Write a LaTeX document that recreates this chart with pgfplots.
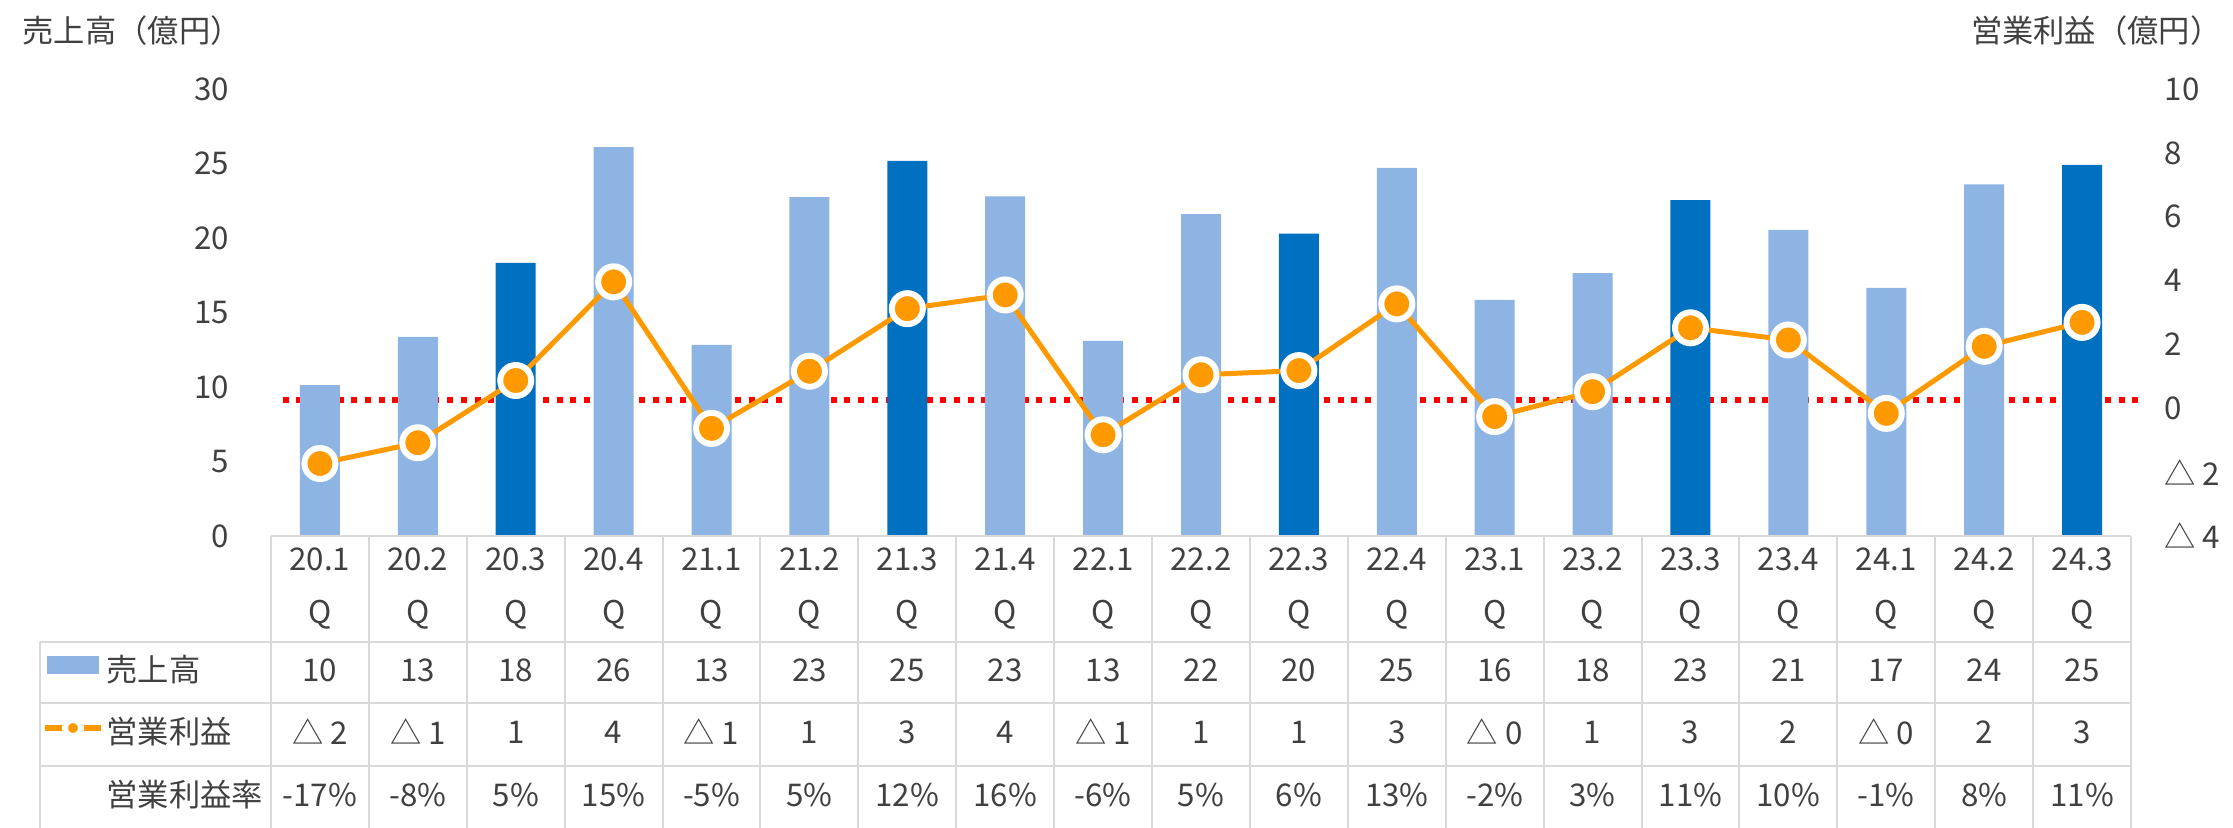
\documentclass[border=0pt]{standalone}
\usepackage{fontspec}
\setmainfont{Noto Sans CJK JP}
\usepackage{pgfplots}
\pgfplotsset{compat=1.18}

\definecolor{lblue}{HTML}{8EB4E3}
\definecolor{dblue}{HTML}{0070C0}
\definecolor{orng}{HTML}{FF9900}
\definecolor{txt}{HTML}{404040}
\definecolor{tline}{HTML}{D9D9D9}
\newcommand{\fs}{\fontsize{8.9pt}{10pt}\selectfont}

\pgfplotsset{
  base/.style={scale only axis, width=186mm, height=44.7mm,
    at={(27.1mm,29.2mm)}, anchor=south west,
    xmin=-0.5, xmax=18.5, xtick=\empty,
    axis line style={draw=none}, major tick style={draw=none}, clip=false,
    ticklabel style={font=\fs, text=txt, inner sep=0pt}},
}

\begin{document}
\begin{tikzpicture}[font=\fs, text=txt]
\useasboundingbox (0,0) rectangle (223.3mm,82.8mm);
\clip (0,0) rectangle (223.3mm,82.8mm);

% red zero line, behind the bars
\begin{axis}[base, ymin=-4, ymax=10, ytick=\empty]
\addplot[red, line width=0.6mm, dash pattern=on 0.6mm off 0.77mm]
  coordinates {(-0.38,0.27)(18.62,0.27)};
\end{axis}

% sales bars (left axis)
\begin{axis}[base, ymin=0, ymax=30, ytick={0,5,...,30},
  yticklabels={0,5,10,15,20,25,30},
  yticklabel style={anchor=east, xshift=-4.1mm},
  ybar, bar width=4mm, bar shift=0pt]
\addplot[fill=lblue, draw=none] coordinates {
  (0,10.13)(1,13.36)(3,26.1)(4,12.82)(5,22.75)(7,22.8)(8,13.09)(9,21.6)
  (11,24.7)(12,15.84)(13,17.65)(15,20.54)(16,16.65)(17,23.6)};
\addplot[fill=dblue, draw=none] coordinates {
  (2,18.33)(6,25.17)(10,20.3)(14,22.55)(18,24.9)};
\end{axis}

% operating profit (right axis)
\begin{axis}[base, ymin=-4, ymax=10, ytick={-4,-2,...,10},
  yticklabels={△ 4,△ 2,0,2,4,6,8,10}, yticklabel pos=right,
  yticklabel style={anchor=west, xshift=3.3mm}]
\addplot[orng, line width=0.5mm, mark=*, mark size=1.55mm,
  mark options={fill=orng, draw=white, line width=0.6mm}] coordinates {
  (0,-1.73)(1,-1.08)(2,0.87)(3,3.96)(4,-0.63)(5,1.16)(6,3.12)(7,3.55)
  (8,-0.83)(9,1.05)(10,1.18)(11,3.27)(12,-0.26)(13,0.52)(14,2.52)
  (15,2.14)(16,-0.16)(17,1.94)(18,2.69)};
\end{axis}

% axis titles
\node[anchor=west, inner sep=0pt] at (2.2mm,79.7mm) {売上高（億円）};
\node[anchor=east, inner sep=0pt] at (222.2mm,79.7mm) {営業利益（億円）};

% data table
\draw[tline, line width=0.25mm] (27.1mm,29.2mm) -- (213.1mm,29.2mm);
\foreach \k in {0,...,19}
  \draw[tline, line width=0.2mm] ({(27.1+\k*9.7895)*1mm},29.2mm) -- ++(0,-31mm);
\foreach \yy in {18.6,12.5,6.2}
  \draw[tline, line width=0.2mm] (4mm,\yy mm) -- (213.1mm,\yy mm);
\draw[tline, line width=0.2mm] (4mm,18.6mm) -- (4mm,-1mm);

\foreach \lab [count=\i from 0] in {20.1,20.2,20.3,20.4,21.1,21.2,21.3,21.4,
    22.1,22.2,22.3,22.4,23.1,23.2,23.3,23.4,24.1,24.2,24.3} {
  \node at ({(27.1+(\i+0.5)*9.7895)*1mm},26.9mm) {\lab};
  \node at ({(27.1+(\i+0.5)*9.7895)*1mm},21.3mm) {Q};
}
\foreach \v [count=\i from 0] in {10,13,18,26,13,23,25,23,13,22,20,25,16,18,23,21,17,24,25}
  \node at ({(27.1+(\i+0.5)*9.7895)*1mm},15.8mm) {\v};
\foreach \v [count=\i from 0] in {△ 2,△ 1,1,4,△ 1,1,3,4,△ 1,1,1,3,△ 0,1,3,2,△ 0,2,3}
  \node at ({(27.1+(\i+0.5)*9.7895)*1mm},9.6mm) {\v};
\foreach \v [count=\i from 0] in {-17\%,-8\%,5\%,15\%,-5\%,5\%,12\%,16\%,-6\%,5\%,
    6\%,13\%,-2\%,3\%,11\%,10\%,-1\%,8\%,11\%}
  \node at ({(27.1+(\i+0.5)*9.7895)*1mm},3.3mm) {\v};

% row headers with legend keys
\fill[lblue] (4.7mm,15.4mm) rectangle (9.9mm,17.2mm);
\draw[orng, line width=0.53mm] (4.5mm,10mm) -- (10.1mm,10mm);
\filldraw[fill=orng, draw=white, line width=0.6mm] (7.3mm,10mm) circle (0.8mm);
\node[anchor=west, inner sep=0pt] at (10.6mm,15.8mm) {売上高};
\node[anchor=west, inner sep=0pt] at (10.6mm,9.6mm) {営業利益};
\node[anchor=west, inner sep=0pt] at (10.6mm,3.3mm) {営業利益率};
\end{tikzpicture}
\end{document}
